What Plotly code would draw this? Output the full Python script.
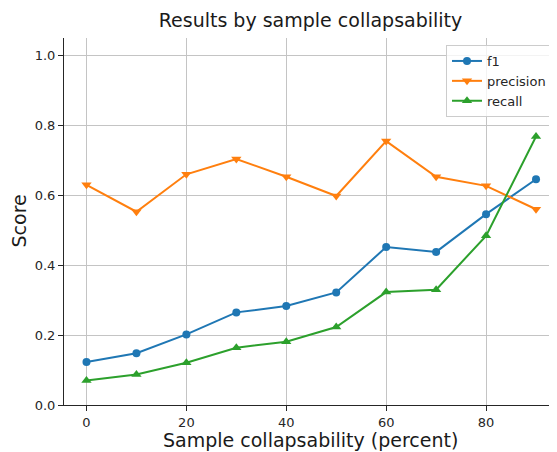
import plotly.graph_objects as go

x_vals = [0, 10, 20, 30, 40, 50, 60, 70, 80, 90]
f1 = [0.123, 0.148, 0.202, 0.265, 0.283, 0.322, 0.452, 0.438, 0.546, 0.646]
precision = [0.630, 0.553, 0.660, 0.704, 0.653, 0.598, 0.755, 0.653, 0.627, 0.560]
recall = [0.070, 0.087, 0.121, 0.164, 0.181, 0.223, 0.323, 0.330, 0.484, 0.768]

x_ticks = [0, 20, 40, 60, 80]
y_ticks = [0.0, 0.2, 0.4, 0.6, 0.8, 1.0]
y_tick_labels = ["0.0", "0.2", "0.4", "0.6", "0.8", "1.0"]

series = [
    ("f1", f1, "#1f77b4", "circle", 8),
    ("precision", precision, "#ff7f0e", "triangle-down", 9),
    ("recall", recall, "#2ca02c", "triangle-up", 9),
]

FONT = "DejaVu Sans"
fig = go.Figure()
for name, vals, color, sym, size in series:
    fig.add_trace(go.Scatter(
        x=x_vals, y=vals, name=name, mode="lines+markers",
        line=dict(color=color, width=2),
        marker=dict(symbol=sym, size=size, color=color),
    ))

# page body has an 8px default margin, so the figure is offset by 8px
W, H = 549, 444
L, R, T, B = 56, 0, 30, 47
PW = W - L - R
PH = H - T - B

fig.update_layout(
    width=W, height=H,
    margin=dict(l=L, r=R, t=T, b=B, pad=0),
    paper_bgcolor="white", plot_bgcolor="white",
    font=dict(family=FONT, size=13, color="#262626"),
    title=dict(text="Results by sample collapsability", x=0.5, xref="paper",
               xanchor="center", y=1 - 12 / H, yref="container", yanchor="middle",
               font=dict(size=19, color="#1a1a1a")),
    showlegend=True,
    legend=dict(x=1 - 5 / PW, xanchor="right", y=1 - 7 / PH, yanchor="top",
                bgcolor="rgba(255,255,255,0.8)", bordercolor="#cccccc", borderwidth=1,
                font=dict(size=13, color="#262626"), itemwidth=30, tracegroupgap=0),
    xaxis=dict(range=[-4.5, 94.2], tickvals=x_ticks, ticktext=[str(v) for v in x_ticks],
               ticks="outside", ticklen=5, tickwidth=1, tickcolor="#262626",
               showline=True, linecolor="#262626", linewidth=1, mirror=False,
               showgrid=True, gridcolor="#c4c4c4", gridwidth=1, zeroline=False,
               tickfont=dict(size=13)),
    yaxis=dict(range=[0, 1.05], tickvals=y_ticks, ticktext=y_tick_labels,
               ticks="outside", ticklen=5, tickwidth=1, tickcolor="#262626",
               showline=True, linecolor="#262626", linewidth=1, mirror=False,
               showgrid=True, gridcolor="#c4c4c4", gridwidth=1, zeroline=False,
               tickfont=dict(size=13)),
    annotations=[
        dict(text="Sample collapsability (percent)", xref="paper", yref="paper",
             x=0.5, y=0, yshift=-35, xanchor="center", yanchor="middle",
             showarrow=False, font=dict(size=19, color="#1a1a1a")),
        dict(text="Score", xref="paper", yref="paper", x=0, xshift=-46,
             y=0.5, textangle=-90, xanchor="center", yanchor="middle",
             showarrow=False, font=dict(size=19, color="#1a1a1a")),
    ],
)

fig.write_html("out.html")
